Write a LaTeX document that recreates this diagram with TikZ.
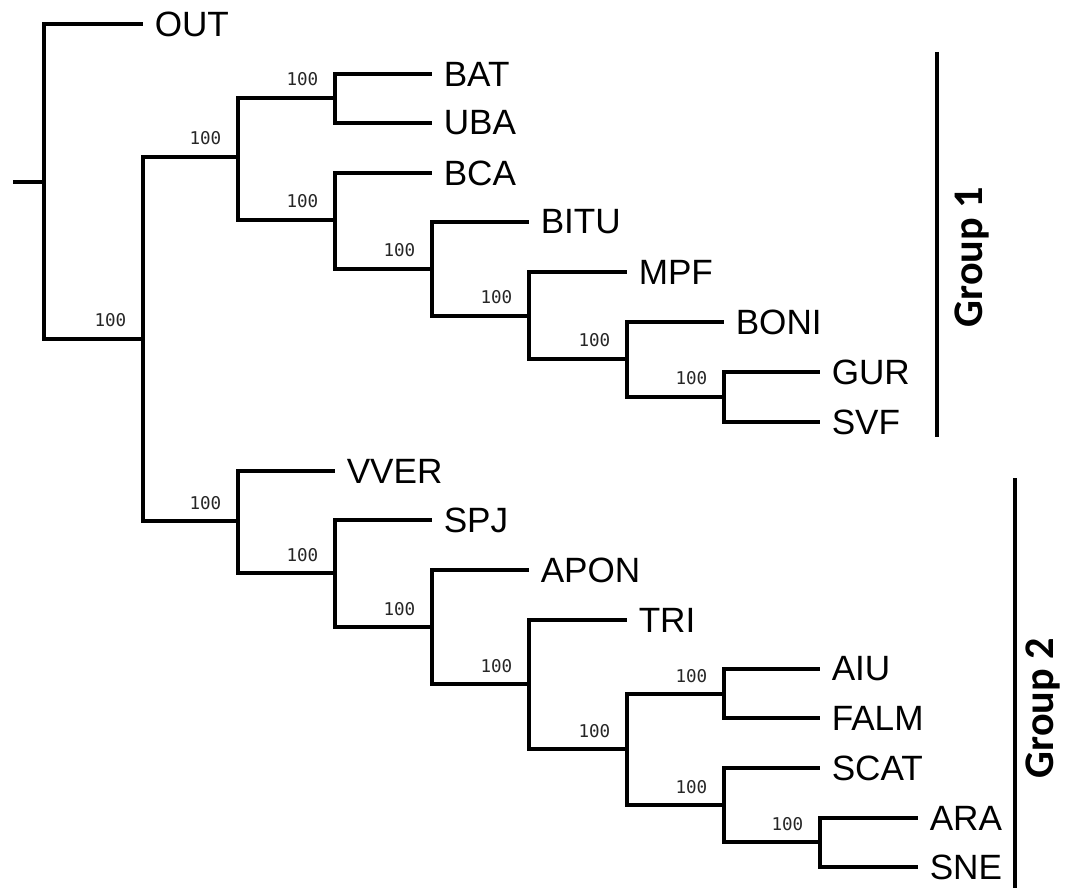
\documentclass[tikz,border=0pt]{standalone}
\usepackage{fontspec}
\setmainfont{Liberation Sans}
\newfontfamily\bootfont{DejaVu Sans Mono}
\newfontfamily\groupfont{Carlito}
\begin{document}
\begin{tikzpicture}[x=0.02cm,y=-0.02cm,line width=2pt,
  taxon/.style={anchor=west,inner xsep=0.2cm,inner ysep=0pt,font=\fontsize{20}{24}\selectfont},
  boot/.style={anchor=south east,inner sep=0pt,xshift=-0.3cm,yshift=0.2cm,text=black!85,font=\bootfont\fontsize{10}{12}\selectfont},
  grp/.style={rotate=90,inner sep=0pt,font=\groupfont\bfseries\fontsize{24}{28}\selectfont}]
  \useasboundingbox (0,0) rectangle (1074,888);
  % inner nodes of the tree
  \coordinate (stub) at (13,182);
  \coordinate (n0) at (44,182);
  \coordinate (nA) at (143,339);
  \coordinate (nB) at (238,157);
  \coordinate (nBU) at (335,98);
  \coordinate (nC) at (335,220);
  \coordinate (nD) at (432,269);
  \coordinate (nE) at (529,316);
  \coordinate (nF) at (627,359);
  \coordinate (nG) at (724,397);
  \coordinate (nH) at (238,521);
  \coordinate (nI) at (335,573);
  \coordinate (nJ) at (432,627);
  \coordinate (nK) at (529,684);
  \coordinate (nL) at (627,749);
  \coordinate (nM) at (724,694);
  \coordinate (nN) at (724,805);
  \coordinate (nO) at (820,842);
  % taxa
  \node[taxon] (OUT) at (143,24) {OUT};
  \node[taxon] (BAT) at (432,74) {BAT};
  \node[taxon] (UBA) at (432,123) {UBA};
  \node[taxon] (BCA) at (432,173) {BCA};
  \node[taxon] (BITU) at (529,222) {BITU};
  \node[taxon] (MPF) at (627,272) {MPF};
  \node[taxon] (BONI) at (724,322) {BONI};
  \node[taxon] (GUR) at (820,372) {GUR};
  \node[taxon] (SVF) at (820,422) {SVF};
  \node[taxon] (VVER) at (335,471) {VVER};
  \node[taxon] (SPJ) at (432,520) {SPJ};
  \node[taxon] (APON) at (529,570) {APON};
  \node[taxon] (TRI) at (627,620) {TRI};
  \node[taxon] (AIU) at (820,669) {AIU};
  \node[taxon] (FALM) at (820,718) {FALM};
  \node[taxon] (SCAT) at (820,768) {SCAT};
  \node[taxon] (ARA) at (918,818) {ARA};
  \node[taxon] (SNE) at (918,867) {SNE};
  % branches
  \draw (stub) -- (n0);
  \draw (n0) |- (OUT.west) (n0) |- (nA) (nA) |- (nB) (nA) |- (nH);
  \draw (nB) |- (nBU) (nB) |- (nC) (nBU) |- (BAT.west) (nBU) |- (UBA.west);
  \draw (nC) |- (BCA.west) (nC) |- (nD) (nD) |- (BITU.west) (nD) |- (nE);
  \draw (nE) |- (MPF.west) (nE) |- (nF) (nF) |- (BONI.west) (nF) |- (nG);
  \draw (nG) |- (GUR.west) (nG) |- (SVF.west);
  \draw (nH) |- (VVER.west) (nH) |- (nI) (nI) |- (SPJ.west) (nI) |- (nJ);
  \draw (nJ) |- (APON.west) (nJ) |- (nK) (nK) |- (TRI.west) (nK) |- (nL);
  \draw (nL) |- (nM) (nL) |- (nN) (nM) |- (AIU.west) (nM) |- (FALM.west);
  \draw (nN) |- (SCAT.west) (nN) |- (nO) (nO) |- (ARA.west) (nO) |- (SNE.west);
  % support values
  \node[boot] (bA) at (nA) {100};
  \node[boot] (bB) at (nB) {100};
  \node[boot] (bBU) at (nBU) {100};
  \node[boot] (bC) at (nC) {100};
  \node[boot] (bD) at (nD) {100};
  \node[boot] (bE) at (nE) {100};
  \node[boot] (bF) at (nF) {100};
  \node[boot] (bG) at (nG) {100};
  \node[boot] (bH) at (nH) {100};
  \node[boot] (bI) at (nI) {100};
  \node[boot] (bJ) at (nJ) {100};
  \node[boot] (bK) at (nK) {100};
  \node[boot] (bL) at (nL) {100};
  \node[boot] (bM) at (nM) {100};
  \node[boot] (bN) at (nN) {100};
  \node[boot] (bO) at (nO) {100};
  % groups
  \coordinate (g1top) at (937,52);
  \coordinate (g1bot) at (937,437);
  \draw (g1top) -- (g1bot);
  \node[grp] (grp1) at (972,257) {Group 1};
  \coordinate (g2top) at (1015,478);
  \coordinate (g2bot) at (1015,888);
  \draw (g2top) -- (g2bot);
  \node[grp] (grp2) at (1043,708) {Group 2};
\end{tikzpicture}
\end{document}
